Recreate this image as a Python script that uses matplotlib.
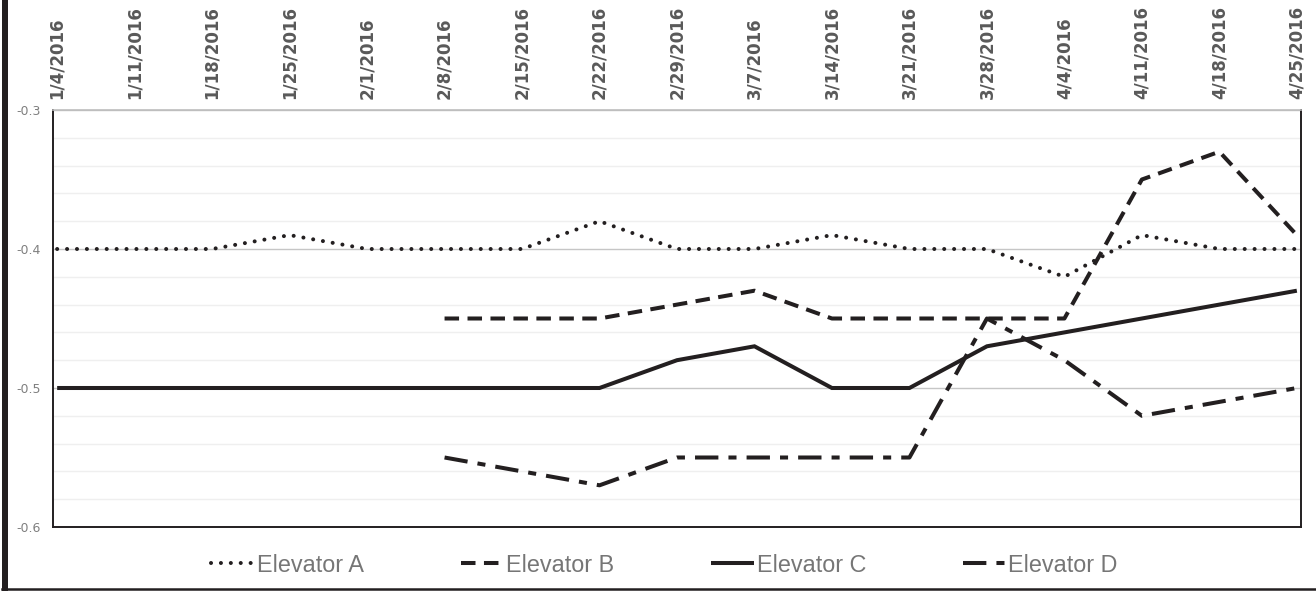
import numpy as np
import pandas as pd
import matplotlib as mpl
mpl.use('Agg')
import matplotlib.pyplot as plt
from matplotlib.lines import Line2D
from matplotlib.patches import Rectangle
import datetime

# weekly readings per elevator
dates = pd.date_range('2016-01-04', '2016-04-25', freq='7D')
nan = np.nan
elev_a = [-0.40, -0.40, -0.40, -0.39, -0.40, -0.40, -0.40, -0.38, -0.40,
          -0.40, -0.39, -0.40, -0.40, -0.42, -0.39, -0.40, -0.40]
elev_b = [nan, nan, nan, nan, nan, -0.45, -0.45, -0.45, -0.44,
          -0.43, -0.45, -0.45, -0.45, -0.45, -0.35, -0.33, -0.39]
elev_c = [-0.50, -0.50, -0.50, -0.50, -0.50, -0.50, -0.50, -0.50, -0.48,
          -0.47, -0.50, -0.50, -0.47, -0.46, -0.45, -0.44, -0.43]
elev_d = [nan, nan, nan, nan, nan, -0.55, -0.56, -0.57, -0.55,
          -0.55, -0.55, -0.55, -0.45, -0.48, -0.52, -0.51, -0.50]
names = ['Elevator A', 'Elevator B', 'Elevator C', 'Elevator D']
tick_labels = ['{}/{}/{}'.format(d.month, d.day, d.year) for d in dates]

plt.rcParams['axes.unicode_minus'] = False
grey = '#595959'
ink = '#231f20'

fig = plt.figure(figsize=(13.16, 5.91), dpi=100)
ax = fig.add_axes([53/1316, 1-527/591, (1301-53)/1316, (527-110)/591])

lw = 2.9
ax.plot(dates, elev_a, color=ink, lw=lw, linestyle=(0, (0.01, 2.45)),
        dash_capstyle='round', label=names[0])
ax.plot(dates, elev_b, color=ink, lw=lw, linestyle=(0, (3.6, 2.1)),
        dash_capstyle='butt', label=names[1])
ax.plot(dates, elev_c, color=ink, lw=lw, solid_capstyle='butt',
        solid_joinstyle='miter', label=names[2])
ax.plot(dates, elev_d, color=ink, lw=lw, linestyle=(0, (5.8, 2.5, 2.0, 2.5)),
        dash_capstyle='butt', label=names[3])

pad = datetime.timedelta(hours=9)
ax.set_xlim(dates[0]-pad, dates[-1]+pad)
ax.set_ylim(-0.6, -0.3)

ax.set_yticks([-0.6, -0.5, -0.4, -0.3])
ax.set_yticklabels(['-0.6', '-0.5', '-0.4', '-0.3'])
ax.set_yticks(np.arange(-0.58, -0.30, 0.02), minor=True)
ax.yaxis.set_minor_formatter(mpl.ticker.NullFormatter())
ax.grid(axis='y', which='major', color='#c6c6c6', lw=1.0)
ax.grid(axis='y', which='minor', color='#efefef', lw=1.0)
ax.set_axisbelow(True)
ax.tick_params(axis='y', which='both', length=0, pad=9, labelsize=9, labelcolor='#7f7f7f')

ax.xaxis.tick_top()
ax.set_xticks(dates)
ax.set_xticklabels(tick_labels, rotation=90, fontweight='bold', fontsize=12, color=grey)
ax.tick_params(axis='x', length=0, pad=8)

for side in ['left', 'bottom', 'right']:
    ax.spines[side].set_color(ink)
    ax.spines[side].set_linewidth(1.4)
ax.spines['top'].set_color('#bdbdbd')
ax.spines['top'].set_linewidth(1.2)

fig.legend(loc='center', bbox_to_anchor=(0.505, 1-565/591), ncol=4, frameon=False,
           labelcolor='#767676', handlelength=1.85, handletextpad=0.1,
           columnspacing=4.15, prop={'family': 'Liberation Sans', 'size': 16.8})

# chart frame (left and bottom edges)
fig.add_artist(Rectangle((2/1316, 0), 6/1316, 1, transform=fig.transFigure,
                         color=ink, lw=0))
fig.add_artist(Line2D([2/1316, 1], [1-589/591, 1-589/591], transform=fig.transFigure,
                      color=ink, lw=1.8))

fig.savefig('out.png', dpi=100)
